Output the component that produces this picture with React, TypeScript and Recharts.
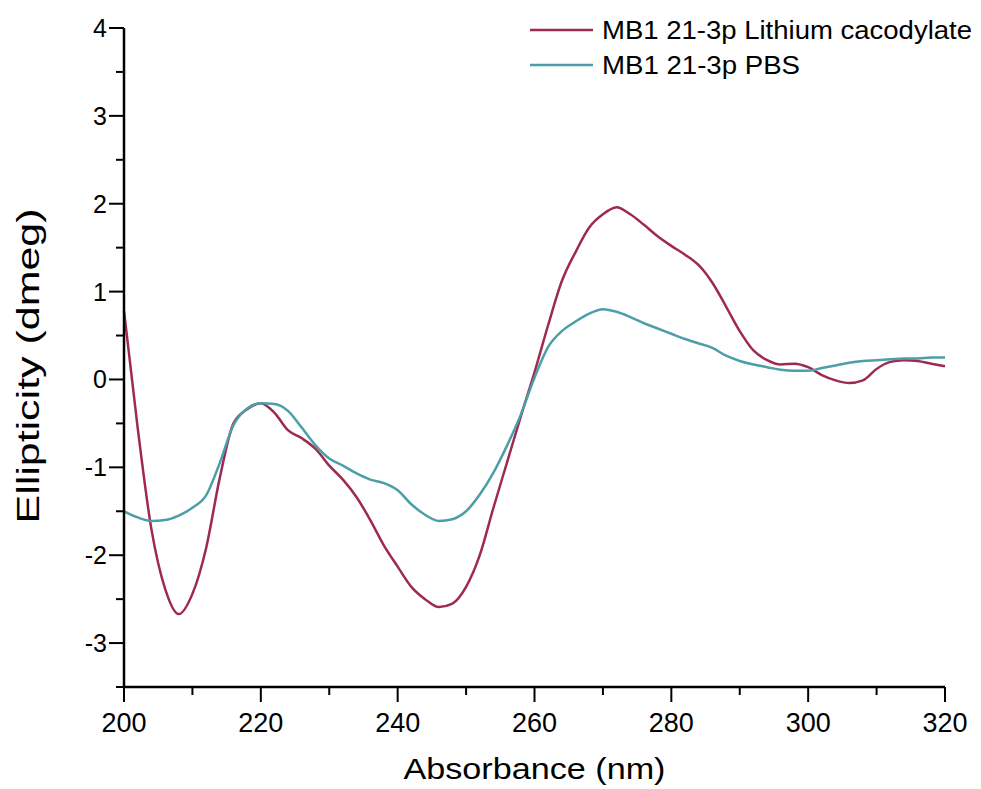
import { LineChart, Line, XAxis, YAxis, Legend } from 'recharts';

// CD spectra, 2 nm steps
const wavelength = [
  200, 202, 204, 206, 208, 210, 212, 214, 216, 218, 220, 222, 224, 226, 228, 230,
  232, 234, 236, 238, 240, 242, 244, 246, 248, 250, 252, 254, 256, 258, 260, 262,
  264, 266, 268, 270, 272, 274, 276, 278, 280, 282, 284, 286, 288, 290, 292, 294,
  296, 298, 300, 302, 304, 306, 308, 310, 312, 314, 316, 318, 320,
];

const lithium = [
  0.78, -0.55, -1.7, -2.38, -2.67, -2.44, -1.92, -1.12, -0.5, -0.34, -0.27, -0.38, -0.58, -0.67, -0.79, -0.98,
  -1.14, -1.34, -1.6, -1.89, -2.13, -2.36, -2.5, -2.59, -2.55, -2.36, -2.0, -1.46, -0.94, -0.42, 0.08, 0.62,
  1.12, 1.45, 1.73, 1.88, 1.96, 1.88, 1.76, 1.63, 1.52, 1.42, 1.3, 1.1, 0.83, 0.55, 0.33, 0.22,
  0.17, 0.18, 0.14, 0.05, -0.01, -0.04, -0.01, 0.12, 0.2, 0.22, 0.21, 0.18, 0.15,
];

const pbs = [
  -1.5, -1.57, -1.61, -1.6, -1.55, -1.46, -1.32, -0.95, -0.52, -0.33, -0.27, -0.28, -0.36, -0.55, -0.75, -0.9,
  -0.98, -1.07, -1.14, -1.18, -1.26, -1.42, -1.54, -1.61, -1.59, -1.5, -1.31, -1.06, -0.75, -0.4, 0.02, 0.37,
  0.55, 0.66, 0.75, 0.8, 0.77, 0.71, 0.64, 0.58, 0.52, 0.46, 0.41, 0.36, 0.27, 0.21, 0.17, 0.14,
  0.11, 0.1, 0.1, 0.13, 0.16, 0.19, 0.21, 0.22, 0.23, 0.24, 0.24, 0.25, 0.25,
];

const xTicks = [200, 210, 220, 230, 240, 250, 260, 270, 280, 290, 300, 310, 320];
const yTicks = [-3.5, -3, -2.5, -2, -1.5, -1, -0.5, 0, 0.5, 1, 1.5, 2, 2.5, 3, 3.5, 4];

const data = wavelength.map((wl, i) => ({ wl, lithium: lithium[i], pbs: pbs[i] }));

const RED = '#9e2a52';
const TEAL = '#4c9ea8';
const FONT = '"Liberation Sans", Arial, sans-serif';

function XTick(props: any) {
  const { x, y, payload } = props;
  const major = payload.value % 20 === 0;
  return (
    <g>
      <line x1={x} x2={x} y1={y} y2={y + (major ? 15 : 8)} stroke="#000" strokeWidth={2} />
      {major && (
        <text x={x} y={y + 45} textAnchor="middle" fontSize={27} fill="#000" fontFamily={FONT}>
          {payload.value}
        </text>
      )}
    </g>
  );
}

function YTick(props: any) {
  const { x, y, payload } = props;
  const major = Number.isInteger(payload.value);
  return (
    <g>
      <line x1={x} x2={x - (major ? 15 : 8)} y1={y} y2={y} stroke="#000" strokeWidth={2} />
      {major && (
        <text x={x - 17} y={y} dy="0.36em" textAnchor="end" fontSize={25} fill="#000" fontFamily={FONT}>
          {payload.value}
        </text>
      )}
    </g>
  );
}

const XTitle = (props: any) => {
  const { x, y, width } = props.viewBox;
  return (
    <text x={x + width / 2} y={y + 92} textAnchor="middle" fontSize={29} fill="#000" fontFamily={FONT}
      textLength={262} lengthAdjust="spacingAndGlyphs">
      Absorbance (nm)
    </text>
  );
};

const YTitle = (props: any) => {
  const cx = 39;
  const cy = 366;
  return (
    <text x={cx} y={cy} transform={`rotate(-90 ${cx} ${cy})`} textAnchor="middle" fontSize={31} fill="#000"
      fontFamily={FONT} textLength={315} lengthAdjust="spacingAndGlyphs">
      Ellipticity (dmeg)
    </text>
  );
};

const renderLegend = (props: any) => {
  const { payload } = props;
  return (
    <svg width={460} height={90}>
      {payload.map((entry: any, i: number) => (
        <g key={entry.value}>
          <line x1={10} x2={73} y1={30 + i * 35} y2={30 + i * 35} stroke={entry.color} strokeWidth={2.5} />
          <text x={82} y={39 + i * 35} fontSize={25} fill="#000" fontFamily={FONT}
            textLength={i === 0 ? 370 : 198} lengthAdjust="spacingAndGlyphs">
            {entry.value}
          </text>
        </g>
      ))}
    </svg>
  );
};

export default function App() {
  return (
    <div style={{ position: 'absolute', left: 0, top: 0, width: 981, height: 789, background: '#fff' }}>
      <LineChart width={981} height={789} data={data} margin={{ top: 28, right: 36, bottom: 0, left: 0 }}>
        <XAxis
          dataKey="wl"
          type="number"
          domain={[200, 320]}
          ticks={xTicks}
          interval={0}
          height={102}
          tickSize={0}
          tickMargin={0}
          tick={<XTick />}
          axisLine={{ stroke: '#000', strokeWidth: 2.5 }}
          label={{ value: 'Absorbance (nm)', content: XTitle }}
        />
        <YAxis
          type="number"
          domain={[-3.5, 4]}
          ticks={yTicks}
          interval={0}
          width={124}
          tickSize={0}
          tickMargin={0}
          tick={<YTick />}
          axisLine={{ stroke: '#000', strokeWidth: 2.5 }}
          label={{ value: 'Ellipticity (dmeg)', content: YTitle }}
        />
        <Legend
          layout="vertical"
          align="center"
          verticalAlign="middle"
          content={renderLegend}
          wrapperStyle={{ left: 520, top: 0, width: 460, height: 90 }}
        />
        <Line
          type="monotone"
          dataKey="lithium"
          name="MB1 21-3p Lithium cacodylate"
          stroke={RED}
          strokeWidth={2.5}
          dot={false}
          activeDot={false}
          isAnimationActive={false}
        />
        <Line
          type="monotone"
          dataKey="pbs"
          name="MB1 21-3p PBS"
          stroke={TEAL}
          strokeWidth={2.5}
          dot={false}
          activeDot={false}
          isAnimationActive={false}
        />
      </LineChart>
    </div>
  );
}
